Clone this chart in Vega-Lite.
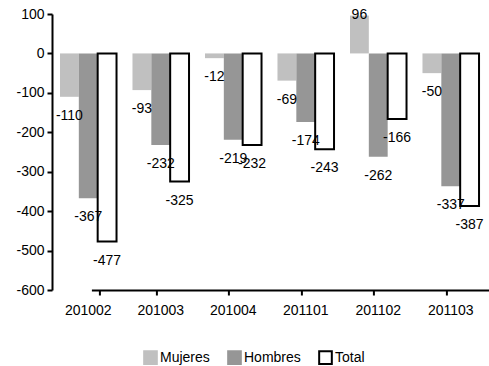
{
 "$schema": "https://vega.github.io/schema/vega-lite/v6.json",
 "width": 435, "height": 276,
 "autosize": "none",
 "padding": {"left": 52, "top": 14, "right": 2, "bottom": 76},
 "background": "white",
 "config": {"view": {"stroke": null}, "font": "Liberation Sans", "axis": {"grid": false},
   "locale": {"number": {"decimal": ".", "thousands": ",", "grouping": [3], "currency": ["$", ""], "minus": "-"}}},
 "data": {"values": [
  {"periodo": "201002", "serie": "Mujeres", "valor": -110},
  {"periodo": "201002", "serie": "Hombres", "valor": -367},
  {"periodo": "201002", "serie": "Total", "valor": -477},
  {"periodo": "201003", "serie": "Mujeres", "valor": -93},
  {"periodo": "201003", "serie": "Hombres", "valor": -232},
  {"periodo": "201003", "serie": "Total", "valor": -325},
  {"periodo": "201004", "serie": "Mujeres", "valor": -12},
  {"periodo": "201004", "serie": "Hombres", "valor": -219},
  {"periodo": "201004", "serie": "Total", "valor": -232},
  {"periodo": "201101", "serie": "Mujeres", "valor": -69},
  {"periodo": "201101", "serie": "Hombres", "valor": -174},
  {"periodo": "201101", "serie": "Total", "valor": -243},
  {"periodo": "201102", "serie": "Mujeres", "valor": 96},
  {"periodo": "201102", "serie": "Hombres", "valor": -262},
  {"periodo": "201102", "serie": "Total", "valor": -166},
  {"periodo": "201103", "serie": "Mujeres", "valor": -50},
  {"periodo": "201103", "serie": "Hombres", "valor": -337},
  {"periodo": "201103", "serie": "Total", "valor": -387}
 ]},
 "encoding": {
  "x": {"field": "periodo", "type": "nominal", "scale": {"paddingInner": 0.22, "paddingOuter": 0.11}},
  "xOffset": {"field": "serie", "type": "nominal", "sort": ["Mujeres", "Hombres", "Total"]},
  "y": {"field": "valor", "type": "quantitative", "scale": {"domain": [-600, 100], "nice": false, "zero": false},
        "axis": {"title": null, "values": [-600, -500, -400, -300, -200, -100, 0, 100], "domainColor": "black", "domainWidth": 2, "tickColor": "black", "tickWidth": 2, "tickSize": 5, "labelFontSize": 14, "labelColor": "black", "labelPadding": 3}}
 },
 "layer": [
  {
   "mark": {"type": "bar"},
   "encoding": {
    "x": {"field": "periodo", "type": "nominal", "axis": {"orient": "bottom", "title": null, "domain": false, "ticks": false, "labelAngle": 0, "labelFontSize": 14, "labelColor": "black", "labelPadding": 13}},
    "fill": {"field": "serie", "type": "nominal", "sort": ["Mujeres", "Hombres", "Total"],
             "scale": {"domain": ["Mujeres", "Hombres", "Total"], "range": ["#C0C0C0", "#969696", "#FFFFFF"]},
             "legend": {"title": null, "orient": "none", "direction": "horizontal", "legendX": 91, "legendY": 336, "symbolType": "square", "symbolSize": 160, "symbolStrokeWidth": 2, "labelFontSize": 14, "labelColor": "black", "labelOffset": 2, "columnPadding": 14}},
    "stroke": {"field": "serie", "type": "nominal", "sort": ["Mujeres", "Hombres", "Total"],
             "scale": {"domain": ["Mujeres", "Hombres", "Total"], "range": ["#C0C0C0", "#969696", "#000000"]}},
    "strokeWidth": {"condition": {"test": "datum.serie === 'Total'", "value": 2}, "value": 0}
   }
  },
  {
   "transform": [{"filter": "datum.valor < 0"}],
   "mark": {"type": "text", "baseline": "middle", "dy": 19, "fontSize": 14, "color": "black"},
   "encoding": {
    "x": {"field": "periodo", "type": "nominal", "axis": {"orient": "bottom", "position": 39.4, "title": null, "labels": false, "domain": true, "domainColor": "black", "domainWidth": 2, "ticks": true, "tickBand": "extent", "tickColor": "black", "tickWidth": 2, "tickSize": 5}},
    "text": {"field": "valor", "type": "quantitative", "format": "d"}
   }
  },
  {
   "transform": [{"filter": "datum.valor >= 0"}],
   "mark": {"type": "text", "baseline": "middle", "dy": -1, "fontSize": 14, "color": "black"},
   "encoding": {
    "x": {"field": "periodo", "type": "nominal", "axis": null},
    "text": {"field": "valor", "type": "quantitative", "format": "d"}
   }
  }
 ],
 "resolve": {"axis": {"x": "independent"}}
}
